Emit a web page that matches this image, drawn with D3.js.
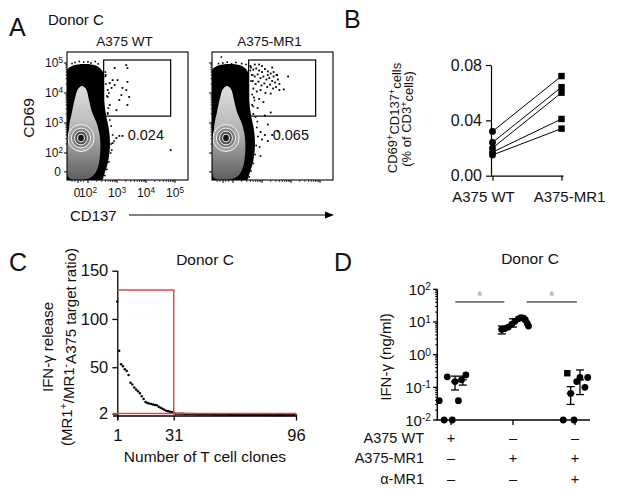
<!DOCTYPE html>
<html>
<head>
<meta charset="utf-8">
<script src="https://cdn.jsdelivr.net/npm/d3@7"></script>
<style>
  body { margin: 0; background: #fff; }
  text { font-family: "Liberation Sans", Arial, Helvetica, sans-serif; fill: #111; }
</style>
</head>
<body>
<svg id="fig" width="617" height="493"></svg>
<script>
// ---------------- data ----------------
// A: flow plots, all coordinates in log10 decades (CD137 x, CD69 y)
const flowTitles = ["A375 WT", "A375-MR1"];
const flowPercents = ["0.024", "0.065"];
const flowDecades = [2, 3, 4, 5];
const flowZeroX = 1.655, flowZeroY = 1.37;
const gateX = [2.54, 4.85], gateY = [3.23, 5.1];
const outerBlob = [[1.241,1.1],[1.241,4.7],[1.448,4.9],[1.897,4.967],[2.31,4.9],[2.517,4.7],[2.552,4.267],
  [2.552,3.767],[2.621,3.267],[2.724,2.767],[2.759,2.267],[2.69,1.7],[2.552,1.267],[2.483,1.1]];
const innerBlob = [[1.345,1.167],[1.345,2.833],[1.448,3.367],[1.552,3.833],[1.655,4.133],[1.793,4.233],
  [1.931,4.133],[2.034,3.767],[2.138,3.367],[2.31,2.967],[2.414,2.5],[2.414,1.933],[2.31,1.433],[2.069,1.167]];
const contourCenter = [1.759, 2.5];
const contourRx = [0.45, 0.33, 0.22, 0.12];
const contourRy = [0.45, 0.33, 0.23, 0.13];
const haloWT = [[1.55,5.02],[1.7,5.05],[1.85,5.03],[2.0,5.04],[2.1,5.0],[2.25,5.05],[2.35,4.97],[1.45,4.98],
  [2.6,4.7],[2.62,4.3],[2.65,3.9],[2.7,3.5],[2.75,3.1],[2.8,2.9],[2.85,2.6],[2.8,2.3],[2.78,2.0],[2.72,1.7],
  [2.65,1.45],[2.58,1.25],[2.9,2.4],[2.72,4.0],[2.6,4.55],[2.68,3.3],[2.82,2.1],[2.6,1.5]];
const haloMR1 = [[1.5,4.98],[1.65,5.0],[1.8,5.03],[1.95,4.97],[2.1,5.02],[2.3,4.98],[2.45,4.95],[1.6,5.2],
  [2.6,4.75],[2.62,4.4],[2.66,3.95],[2.7,3.55],[2.78,3.2],[2.82,2.85],[2.86,2.55],[2.8,2.25],[2.76,1.95],
  [2.7,1.65],[2.62,1.4],[2.56,1.2],[2.92,2.2],[2.74,3.75],[2.95,1.9],[2.68,4.6],[2.84,3.05]];
const eventsWT = [[3.32,4.93],[3.36,4.83],[2.92,4.83],[2.85,4.43],[3.02,4.43],[2.75,4.33],[2.92,4.27],
  [2.81,4.17],[3.19,4.17],[3.36,4.37],[3.32,4.1],[3.42,3.87],[3.08,3.77],[2.68,3.87],[2.75,3.6],[2.98,3.43],
  [3.36,3.6],[3.15,3.93],[2.68,3.33],[2.61,4.6],[2.68,4.1],[3.08,2.57],[3.19,2.57],[2.98,2.5],[4.85,2.1],[2.85,2.33]];
const eventsMR1 = [[2.62,4.85],[2.7,4.78],[2.8,4.82],[2.9,4.75],[3.0,4.7],[3.1,4.8],[3.2,4.72],[3.3,4.65],
  [3.4,4.7],[3.5,4.6],[2.65,4.6],[2.75,4.55],[2.85,4.62],[2.95,4.5],[3.05,4.55],[3.15,4.45],[3.25,4.5],
  [3.35,4.4],[3.45,4.35],[3.55,4.45],[2.68,4.4],[2.78,4.3],[2.88,4.38],[2.98,4.25],[3.08,4.32],[3.18,4.2],
  [3.28,4.28],[3.38,4.15],[3.48,4.2],[3.6,4.1],[3.75,4.12],[3.9,4.55],[2.7,4.15],[2.82,4.05],[2.95,4.1],
  [3.12,4.0],[3.3,3.98],[2.72,3.85],[2.9,3.8],[3.05,3.7],[2.66,3.6],[2.85,3.5],[3.3,3.35],[3.1,3.25],
  [2.7,3.3],[3.52,4.6],[3.6,4.3],[3.4,4.55],[3.0,4.9],[2.6,4.9],[2.9,4.95],[3.2,4.6],[3.35,4.85],[2.75,4.95],
  [3.2,2.95],[3.35,2.6],[3.1,2.6],[2.95,2.7],[3.55,2.72],[3.0,2.45],[2.7,2.1],[3.2,2.4]];

// B: paired percentages
const pairCats = ["A375 WT", "A375-MR1"];
const pctWT  = [0.032, 0.024, 0.020, 0.017, 0.015];
const pctMR1 = [0.072, 0.064, 0.060, 0.041, 0.034];
const pctTicks = [0, 0.04, 0.08];

// C: ranked IFN-g ratio of 96 clones
const cloneRatio = [118,67,53,51,48,46,42,34,32,29, 27,25,23,20,17,14,13,12.5,12,11.5,
  11,10.5,9,8,7,6,5,4.5,4,3.5, 2.5,
  1.9,1.85,1.8,1.75,1.7,1.65,1.6,1.55,1.5,1.5, 1.45,1.4,1.4,1.35,1.3,1.3,1.25,1.2,1.2,1.15,
  1.1,1.1,1.05,1.0,1.0,1.0,0.95,0.95,0.9,0.9, 0.9,0.85,0.85,0.85,0.8,0.8,0.8,0.8,0.75,0.75,
  0.75,0.7,0.7,0.7,0.7,0.65,0.65,0.65,0.65,0.6, 0.6,0.6,0.6,0.55,0.55,0.55,0.55,0.5,0.5,0.5,
  0.5,0.45,0.45,0.4,0.4];
const cTicksY = [2, 50, 100, 150];
const cTicksX = [1, 31, 96];
const cCutRank = 31, cCutTop = 130, cThreshold = 2;

// D: IFN-g ng/ml, [group, offset, value]
const dRows = ["A375 WT", "A375-MR1", "\u03b1-MR1"];
const dSigns = [["+","\u2013","\u2013"], ["\u2013","+","+"], ["\u2013","\u2013","+"]];
const dPoints = [[0,-0.19,0.039],[0,-0.11,0.01],[0,0.02,0.01],[0,-0.06,0.21],[0,0.065,0.15],[0,0.12,0.039],
  [0,0.17,0.17],[0,0.24,0.24],
  [1,-0.18,5.9],[1,-0.13,6.3],[1,-0.076,7.0],[1,-0.02,8.5],[1,0.03,10.5],[1,0.085,12.5],[1,0.13,13.5],
  [1,0.17,13.0],[1,0.2,11.5],[1,0.23,9.0],[1,0.25,7.5],
  [2,-0.19,0.01],[2,-0.016,0.01],[2,-0.07,0.065],[2,0.027,0.15],[2,0.08,0.2],[2,0.16,0.1],[2,0.205,0.2]];
const dSquares = [[2,-0.124,0.27]];
// [group, offset, mean, low, high]
const dErrors = [[0,0.065,0.15,0.083,0.22],[0,0.19,0.17,0.117,0.22],[1,-0.18,6,4.3,7.5],[1,0.0,9,7,12.5],
  [2,-0.07,0.065,0.03,0.105],[2,0.08,0.17,0.06,0.34]];
const dSig = [[0.07,0.86],[1.22,2.03]];
const dSigLevel = 41;
const dExponents = [-2, -1, 0, 1, 2];

// ---------------- drawing ----------------
const svg = d3.select("#fig");
svg.append("rect").attr("width", 617).attr("height", 493).attr("fill", "#fff");
const defs = svg.append("defs");

function supText(sel, base, exp) {
  sel.append("tspan").text(base);
  sel.append("tspan").attr("dy", "-0.45em").attr("font-size", "0.68em").text(exp);
}

function panelLetter(x, y, t) {
  svg.append("text").attr("x", x).attr("y", y).attr("font-size", 25).text(t);
}

// ===== Panel A =====
panelLetter(9, 36, "A");
svg.append("text").attr("x", 48).attr("y", 25).attr("font-size", 15).text("Donor C");

const flowW = 121, flowH = 128, flowTop = 52;
const flowLeft = [67, 212];
const fx = d3.scaleLinear().domain([1.276, 5.448]).range([0, flowW]);
const fy = d3.scaleLinear().domain([1.1, 5.367]).range([flowH, 0]);
const blobLine = d3.line().x(d => fx(d[0])).y(d => fy(d[1])).curve(d3.curveCatmullRomClosed.alpha(0.5));

const grad = defs.append("linearGradient").attr("id", "grayGrad")
  .attr("x1", 0).attr("y1", 0).attr("x2", 0).attr("y2", 1);
grad.append("stop").attr("offset", "0%").attr("stop-color", "#dedede");
grad.append("stop").attr("offset", "40%").attr("stop-color", "#bcbcbc");
grad.append("stop").attr("offset", "72%").attr("stop-color", "#8c8c8c");
grad.append("stop").attr("offset", "100%").attr("stop-color", "#5c5c5c");

const contourFill = ["#a2a2a2", "#7c7c7c", "#505050", "#141414"];
const minorDecades = [];
flowDecades.slice(0, 3).forEach(d => { for (let k = 2; k < 10; k++) minorDecades.push(d + Math.log10(k)); });

[0, 1].forEach(i => {
  const g = svg.append("g").attr("transform", `translate(${flowLeft[i]},${flowTop})`);
  defs.append("clipPath").attr("id", "fclip" + i).append("rect")
    .attr("width", flowW).attr("height", flowH);
  const inner = g.append("g").attr("clip-path", `url(#fclip${i})`);

  inner.append("path").attr("d", blobLine(outerBlob)).attr("fill", "#000");
  inner.selectAll(".halo").data(i === 0 ? haloWT : haloMR1).join("rect")
    .attr("x", d => fx(d[0]) - 0.8).attr("y", d => fy(d[1]) - 0.8)
    .attr("width", 1.6).attr("height", 1.6).attr("fill", "#000");
  inner.append("path").attr("d", blobLine(innerBlob)).attr("fill", "url(#grayGrad)");
  contourRx.forEach((rx, k) => {
    inner.append("ellipse")
      .attr("cx", fx(contourCenter[0])).attr("cy", fy(contourCenter[1]))
      .attr("rx", fx(contourCenter[0] + rx) - fx(contourCenter[0]))
      .attr("ry", fy(contourCenter[1]) - fy(contourCenter[1] + contourRy[k]))
      .attr("fill", contourFill[k]).attr("stroke", "#f4f4f4").attr("stroke-width", 1);
  });
  inner.selectAll(".ev").data(i === 0 ? eventsWT : eventsMR1).join("rect")
    .attr("x", d => fx(d[0]) - 0.9).attr("y", d => fy(d[1]) - 0.9)
    .attr("width", 1.8).attr("height", 1.8).attr("fill", "#000");

  g.append("rect")
    .attr("x", fx(gateX[0])).attr("y", fy(gateY[1]))
    .attr("width", fx(gateX[1]) - fx(gateX[0])).attr("height", fy(gateY[0]) - fy(gateY[1]))
    .attr("fill", "none").attr("stroke", "#000").attr("stroke-width", 1.2);
  g.append("rect").attr("width", flowW).attr("height", flowH)
    .attr("fill", "none").attr("stroke", "#000").attr("stroke-width", 1.1);

  g.append("text").attr("x", fx(gateX[0]) + 24).attr("y", 88).attr("font-size", 14.5)
    .text(flowPercents[i]);
  g.append("text").attr("x", flowW / 2 - 3).attr("y", -6).attr("text-anchor", "middle")
    .attr("font-size", 13.5).text(flowTitles[i]);

  // ticks
  const yt = flowDecades.concat([flowZeroY]);
  g.selectAll(".yt").data(yt).join("line")
    .attr("x1", -3).attr("x2", 0).attr("y1", d => fy(d)).attr("y2", d => fy(d))
    .attr("stroke", "#000").attr("stroke-width", 1);
  g.selectAll(".ytm").data(minorDecades).join("line")
    .attr("x1", -1.6).attr("x2", 0).attr("y1", d => fy(d)).attr("y2", d => fy(d))
    .attr("stroke", "#000").attr("stroke-width", 0.7);
  const xt = flowDecades.concat([flowZeroX]);
  g.selectAll(".xt").data(xt).join("line")
    .attr("x1", d => fx(d)).attr("x2", d => fx(d)).attr("y1", flowH).attr("y2", flowH + 3)
    .attr("stroke", "#000").attr("stroke-width", 1);
  g.selectAll(".xtm").data(minorDecades.concat([1.45, 1.55, 1.75, 1.85])).join("line")
    .attr("x1", d => fx(d)).attr("x2", d => fx(d)).attr("y1", flowH).attr("y2", flowH + 2)
    .attr("stroke", "#000").attr("stroke-width", 0.7);

  if (i === 0) {
    flowDecades.forEach(d => {
      const t = g.append("text").attr("x", -4).attr("y", fy(d) + 4).attr("text-anchor", "end")
        .attr("font-size", 12);
      supText(t, "10", String(d));
      const u = g.append("text").attr("x", fx(d)).attr("y", flowH + 17).attr("text-anchor", "middle")
        .attr("font-size", 12);
      supText(u, "10", String(d));
    });
    g.append("text").attr("x", -6).attr("y", fy(flowZeroY) + 4).attr("text-anchor", "end")
      .attr("font-size", 12).text("0");
    g.append("text").attr("x", fx(flowZeroX) - 1).attr("y", flowH + 17).attr("text-anchor", "middle")
      .attr("font-size", 12).text("0");
  }
});
svg.append("text").attr("transform", "translate(34,118) rotate(-90)").attr("text-anchor", "middle")
  .attr("font-size", 15.5).text("CD69");
svg.append("text").attr("x", 70).attr("y", 221).attr("font-size", 15).text("CD137");
svg.append("line").attr("x1", 129).attr("x2", 326).attr("y1", 215).attr("y2", 215)
  .attr("stroke", "#000").attr("stroke-width", 1.1);
svg.append("path").attr("d", "M334,215 L325,211.5 L325,218.5 Z").attr("fill", "#000");

// ===== Panel B =====
panelLetter(344, 28, "B");
const bx = d3.scalePoint().domain(pairCats).range([492.5, 561.5]);
const by = d3.scaleLinear().domain([0, 0.08]).range([175.7, 65]);
svg.append("g").attr("transform", "translate(491,0)")
  .call(d3.axisLeft(by).tickValues(pctTicks).tickFormat(d3.format(".2f")).tickSize(5).tickSizeOuter(0))
  .call(a => a.selectAll("text").attr("font-size", 16).attr("dx", -1))
  .call(a => a.selectAll("line, path").attr("stroke-width", 1.2));
svg.append("g").attr("transform", "translate(0,175.7)")
  .call(d3.axisBottom(bx).tickSize(5).tickSizeOuter(0).tickFormat(""))
  .call(a => a.select(".domain").attr("d", "M491,0.5H563.5"))
  .call(a => a.selectAll("line, path").attr("stroke-width", 1.2));
pairCats.forEach((c, k) => {
  svg.append("text").attr("x", bx(c) + (k === 0 ? -9 : 8)).attr("y", 202).attr("text-anchor", "middle")
    .attr("font-size", 15).text(c);
});
const pairs = pctWT.map((v, k) => [v, pctMR1[k]]);
svg.selectAll(".pair").data(pairs).join("line")
  .attr("x1", bx(pairCats[0])).attr("x2", bx(pairCats[1]))
  .attr("y1", d => by(d[0])).attr("y2", d => by(d[1]))
  .attr("stroke", "#000").attr("stroke-width", 1);
svg.selectAll(".pwt").data(pctWT).join("circle")
  .attr("cx", bx(pairCats[0])).attr("cy", d => by(d)).attr("r", 3.4).attr("fill", "#000");
svg.selectAll(".pmr").data(pctMR1).join("rect")
  .attr("x", bx(pairCats[1]) - 3.2).attr("y", d => by(d) - 3.2)
  .attr("width", 6.4).attr("height", 6.4).attr("fill", "#000");
{
  const t1 = svg.append("text").attr("transform", "translate(397,118) rotate(-90)")
    .attr("text-anchor", "middle").attr("font-size", 13);
  t1.append("tspan").text("CD69");
  t1.append("tspan").attr("dy", "-0.45em").attr("font-size", "0.7em").text("+");
  t1.append("tspan").attr("dy", "0.45em").text("CD137");
  t1.append("tspan").attr("dy", "-0.45em").attr("font-size", "0.7em").text("+");
  t1.append("tspan").attr("dy", "0.45em").text("cells");
  const t2 = svg.append("text").attr("transform", "translate(411,119) rotate(-90)")
    .attr("text-anchor", "middle").attr("font-size", 13);
  t2.append("tspan").text("(% of CD3");
  t2.append("tspan").attr("dy", "-0.45em").attr("font-size", "0.7em").text("+");
  t2.append("tspan").attr("dy", "0.45em").text("cells)");
}

// ===== Panel C =====
panelLetter(9, 271, "C");
svg.append("text").attr("x", 205).attr("y", 265).attr("text-anchor", "middle").attr("font-size", 15.5)
  .text("Donor C");
const cx = d3.scaleLinear().domain([1, 96]).range([117.3, 296]);
const cy = d3.scaleLinear().domain([0, 150]).range([415.5, 270.7]);
svg.append("g").attr("transform", "translate(117.3,0)")
  .call(d3.axisLeft(cy).tickValues(cTicksY).tickSize(5).tickSizeOuter(0))
  .call(a => a.select(".domain").attr("d", "M0.5,270.7V420"))
  .call(a => a.selectAll("text").attr("font-size", 16.5).attr("dx", -1))
  .call(a => a.selectAll("line, path").attr("stroke-width", 1.3));
svg.append("g").attr("transform", "translate(0,415.5)")
  .call(d3.axisBottom(cx).tickValues(cTicksX).tickSize(5).tickSizeOuter(0))
  .call(a => a.select(".domain").attr("d", "M113,0.5H297"))
  .call(a => a.selectAll("text").attr("font-size", 16.5).attr("dy", "1.05em"))
  .call(a => a.selectAll("line, path").attr("stroke-width", 1.3));
svg.append("text").attr("x", 205).attr("y", 462).attr("text-anchor", "middle").attr("font-size", 15.5)
  .text("Number of T cell clones");
svg.append("text").attr("transform", "translate(53,347) rotate(-90)").attr("text-anchor", "middle")
  .attr("font-size", 15).text("IFN-\u03b3 release");
{
  const t = svg.append("text").attr("transform", "translate(72,347) rotate(-90)")
    .attr("text-anchor", "middle").attr("font-size", 15);
  t.append("tspan").text("(MR1");
  t.append("tspan").attr("dy", "-0.45em").attr("font-size", "0.7em").text("+");
  t.append("tspan").attr("dy", "0.45em").text("/MR1");
  t.append("tspan").attr("dy", "-0.45em").attr("font-size", "0.7em").text("-");
  t.append("tspan").attr("dy", "0.45em").text("A375 target ratio)");
}
svg.selectAll(".clone").data(cloneRatio).join("circle")
  .attr("cx", (d, k) => cx(k + 1)).attr("cy", d => cy(d)).attr("r", 1.25).attr("fill", "#000");
const red = "#e2474b";
svg.append("path")
  .attr("d", `M${cx(1)},${cy(cCutTop)}H${cx(cCutRank)}V${cy(0)}`)
  .attr("fill", "none").attr("stroke", red).attr("stroke-width", 1.4);
svg.append("line").attr("x1", 113).attr("x2", cx(96)).attr("y1", cy(cThreshold)).attr("y2", cy(cThreshold))
  .attr("stroke", red).attr("stroke-width", 1.4);
svg.append("line").attr("x1", cx(96)).attr("x2", cx(96)).attr("y1", cy(cThreshold)).attr("y2", cy(0))
  .attr("stroke", red).attr("stroke-width", 1.4);

// ===== Panel D =====
panelLetter(334, 271, "D");
svg.append("text").attr("x", 530).attr("y", 264).attr("text-anchor", "middle").attr("font-size", 15.5)
  .text("Donor C");
const dx = d3.scaleLinear().domain([0, 2]).range([451, 575]);
const dy = d3.scaleLog().domain([0.01, 100]).range([420, 289.3]);
const dMinor = [];
dExponents.slice(0, 4).forEach(e => { for (let k = 2; k < 10; k++) dMinor.push(k * Math.pow(10, e)); });
svg.selectAll(".dminor").data(dMinor).join("line")
  .attr("x1", 435).attr("x2", 437.3).attr("y1", d => dy(d)).attr("y2", d => dy(d))
  .attr("stroke", "#000").attr("stroke-width", 0.9);
svg.selectAll(".dmajor").data(dExponents).join("line")
  .attr("x1", 433).attr("x2", 437.3).attr("y1", d => dy(Math.pow(10, d))).attr("y2", d => dy(Math.pow(10, d)))
  .attr("stroke", "#000").attr("stroke-width", 1.3);
svg.append("line").attr("x1", 437.3).attr("x2", 437.3).attr("y1", 289.3).attr("y2", 420.5)
  .attr("stroke", "#000").attr("stroke-width", 1.4);
svg.append("line").attr("x1", 436.6).attr("x2", 590).attr("y1", 420).attr("y2", 420)
  .attr("stroke", "#000").attr("stroke-width", 1.4);
svg.selectAll(".dxt").data([0, 1, 2]).join("line")
  .attr("x1", d => dx(d)).attr("x2", d => dx(d)).attr("y1", 420).attr("y2", 425)
  .attr("stroke", "#000").attr("stroke-width", 1.3);
dExponents.forEach(e => {
  const t = svg.append("text").attr("x", 431).attr("y", dy(Math.pow(10, e)) + 5.5)
    .attr("text-anchor", "end").attr("font-size", 15);
  supText(t, "10", e < 0 ? "-" + (-e) : String(e));
});
svg.append("text").attr("transform", "translate(391,357) rotate(-90)").attr("text-anchor", "middle")
  .attr("font-size", 15).text("IFN-\u03b3 (ng/ml)");
dRows.forEach((r, k) => {
  const y = 443 + k * 20.3;
  svg.append("text").attr("x", 424).attr("y", y).attr("text-anchor", "end").attr("font-size", 14.5).text(r);
  dSigns[k].forEach((s, j) => {
    svg.append("text").attr("x", dx(j)).attr("y", y).attr("text-anchor", "middle").attr("font-size", 14.5)
      .text(s);
  });
});
dSig.forEach(s => {
  svg.append("line").attr("x1", dx(s[0])).attr("x2", dx(s[1])).attr("y1", dy(dSigLevel)).attr("y2", dy(dSigLevel))
    .attr("stroke", "#000").attr("stroke-width", 1);
  svg.append("text").attr("x", dx((s[0] + s[1]) / 2)).attr("y", dy(dSigLevel) - 1).attr("text-anchor", "middle")
    .attr("font-size", 14).style("fill", "#9a9a9a").text("*");
});
const eb = svg.append("g").attr("stroke", "#000").attr("stroke-width", 1.3);
dErrors.forEach(e => {
  const x = dx(e[0] + e[1]);
  eb.append("line").attr("x1", x).attr("x2", x).attr("y1", dy(e[3])).attr("y2", dy(e[4]));
  [e[3], e[4], e[2]].forEach(v => {
    eb.append("line").attr("x1", x - 4).attr("x2", x + 4).attr("y1", dy(v)).attr("y2", dy(v));
  });
});
svg.selectAll(".dpt").data(dPoints).join("circle")
  .attr("cx", d => dx(d[0] + d[1])).attr("cy", d => dy(d[2])).attr("r", 3.4).attr("fill", "#000");
svg.selectAll(".dsq").data(dSquares).join("rect")
  .attr("x", d => dx(d[0] + d[1]) - 3.2).attr("y", d => dy(d[2]) - 3.2)
  .attr("width", 6.4).attr("height", 6.4).attr("fill", "#000");
</script>
</body>
</html>
